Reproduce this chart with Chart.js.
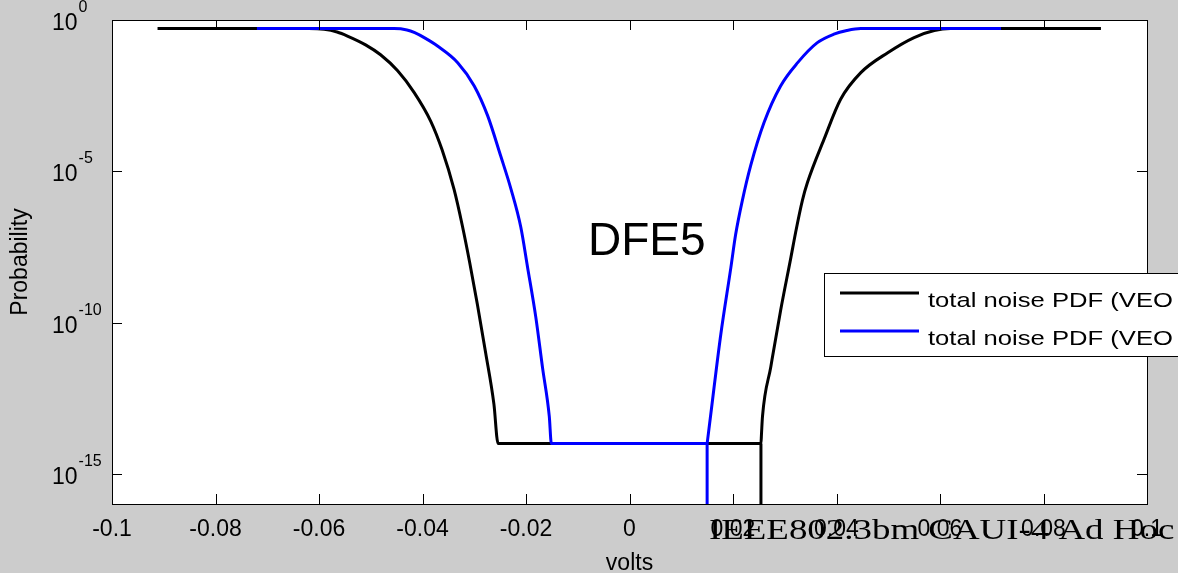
<!DOCTYPE html>
<html>
<head>
<meta charset="utf-8">
<script src="https://cdn.jsdelivr.net/npm/chart.js@4.4.0/dist/chart.umd.min.js"></script>
<style>
  html, body { margin: 0; padding: 0; background: #cccccc; }
  #wrap { width: 1178px; height: 573px; }
</style>
</head>
<body>
<div id="wrap"><canvas id="pdfChart"></canvas></div>
<script>
// values (volts, probability)
const blackX = [-0.0912, -0.062, -0.059, -0.0565, -0.0545, -0.051, -0.0481, -0.0448, -0.0416, -0.0384,
  -0.0362, -0.0339, -0.0323, -0.0309, -0.0294, -0.0278, -0.0262, -0.0254, 0.0254, 0.0255, 0.0257,
  0.0273, 0.0292, 0.0312, 0.0321, 0.0334, 0.0344, 0.0376, 0.0408, 0.0447, 0.0499, 0.055, 0.0589, 0.062, 0.0911];
const blackY = [0.52, 0.52, 0.49, 0.4, 0.295, 0.151, 0.0708, 0.0209, 3.98e-3, 4.47e-4,
  5.0e-5, 2.5e-6, 1.58e-7, 1e-8, 3.98e-10, 1e-11, 2e-13, 1e-14, 1e-14, 2e-14, 7.9e-14,
  3.4e-12, 2.5e-10, 1.45e-8, 9.5e-8, 1.07e-6, 4.3e-6, 1.15e-4, 2.4e-3, 0.0182, 0.083, 0.263, 0.447, 0.52, 0.52];

const blueX = [-0.072, -0.0455, -0.043, -0.0415, -0.0395, -0.0371, -0.0332, -0.03, -0.0274, -0.0249,
  -0.0229, -0.021, -0.0197, -0.0181, -0.0168, -0.0155, -0.0151, 0.015, 0.01505, 0.01635,
  0.01764, 0.0196, 0.0205, 0.0218, 0.0234, 0.026, 0.0292, 0.0325, 0.0363, 0.0395, 0.042, 0.0447, 0.0718];
const blueY = [0.52, 0.52, 0.468, 0.38, 0.251, 0.138, 0.0389, 6.6e-3, 6.76e-4, 3.24e-5,
  2.57e-6, 1.41e-7, 6.76e-9, 1.48e-10, 3.16e-12, 7.9e-14, 1e-14, 1e-14, 1.15e-14, 7.4e-13,
  4e-11, 6.76e-9, 7.9e-8, 1.07e-6, 1.5e-5, 4.07e-4, 6.6e-3, 0.0389, 0.178, 0.339, 0.447, 0.52, 0.52];

// the pdf hits zero right at the floor edge (drawn as a drop off the log axis)
const blackDropX = [0.0254, 0.0254];
const blackDropY = [1e-14, 1e-30];
const blueDropX = [0.015, 0.015];
const blueDropY = [1e-14, 1e-30];

const seriesLabels = ['total noise PDF (VEO', 'total noise PDF (VEO'];
const seriesColors = ['#000000', '#0000ff'];
const xTickValues = [-0.1, -0.08, -0.06, -0.04, -0.02, 0, 0.02, 0.04, 0.06, 0.08, 0.1];
const xTickLabels = ['-0.1', '-0.08', '-0.06', '-0.04', '-0.02', '0', '0.02', '0.04', '0.06', '0.08', '0.1'];
const yTickValues = [1, 1e-5, 1e-10, 1e-15];
const yTickExponents = ['0', '-5', '-10', '-15'];

const toPoints = (xs, ys) => xs.map((x, i) => ({ x: x, y: ys[i] }));

// MATLAB-style box, inward ticks, labels, annotation, legend
const matlabFrame = {
  id: 'matlabFrame',
  beforeDatasetsDraw(chart) {
    const { ctx, chartArea: a } = chart;
    ctx.save();
    ctx.fillStyle = '#ffffff';
    ctx.fillRect(a.left, a.top, a.right - a.left, a.bottom - a.top);
    ctx.restore();
  },
  afterDatasetsDraw(chart) {
    const { ctx, chartArea: a } = chart;
    const xs = chart.scales.x, ys = chart.scales.y;
    ctx.save();
    ctx.strokeStyle = '#000000';
    ctx.lineWidth = 1;
    ctx.strokeRect(a.left + 0.5, a.top + 0.5, a.right - a.left, a.bottom - a.top);

    ctx.beginPath();
    xTickValues.forEach(v => {
      const px = Math.round(xs.getPixelForValue(v)) + 0.5;
      ctx.moveTo(px, a.bottom); ctx.lineTo(px, a.bottom - 10);
      ctx.moveTo(px, a.top); ctx.lineTo(px, a.top + 10);
    });
    yTickValues.forEach(v => {
      const py = Math.round(ys.getPixelForValue(v)) + 0.5;
      ctx.moveTo(a.left, py); ctx.lineTo(a.left + 10, py);
      ctx.moveTo(a.right, py); ctx.lineTo(a.right - 10, py);
    });
    ctx.stroke();

    ctx.fillStyle = '#000000';
    ctx.font = '23px "Liberation Sans", Arial, sans-serif';
    ctx.textAlign = 'center';
    ctx.textBaseline = 'alphabetic';
    xTickValues.forEach((v, i) => {
      ctx.fillText(xTickLabels[i], xs.getPixelForValue(v), 536);
    });

    yTickValues.forEach((v, i) => {
      const py = ys.getPixelForValue(v);
      ctx.textAlign = 'left';
      ctx.font = '23px "Liberation Sans", Arial, sans-serif';
      ctx.fillText('10', 52, py + 10);
      const w = ctx.measureText('10').width;
      ctx.font = '16px "Liberation Sans", Arial, sans-serif';
      ctx.fillText(yTickExponents[i], 52 + w + 1, py - 8);
    });

    ctx.font = '23px "Liberation Sans", Arial, sans-serif';
    ctx.textAlign = 'center';
    ctx.fillText('volts', (a.left + a.right) / 2, 570);
    ctx.save();
    ctx.translate(27, (a.top + a.bottom) / 2);
    ctx.rotate(-Math.PI / 2);
    ctx.fillText('Probability', 0, 0);
    ctx.restore();

    ctx.font = '46px "Liberation Sans", Arial, sans-serif';
    ctx.textAlign = 'left';
    ctx.fillText('DFE5', 588, 255);

    // legend box runs past the right edge, like the reference
    ctx.fillStyle = '#ffffff';
    ctx.fillRect(824, 273, 380, 83);
    ctx.strokeRect(824.5, 273.5, 380, 83);
    const legendRows = [293, 331];
    seriesLabels.forEach((label, i) => {
      ctx.strokeStyle = seriesColors[i];
      ctx.lineWidth = 3;
      ctx.beginPath();
      ctx.moveTo(840, legendRows[i]);
      ctx.lineTo(919, legendRows[i]);
      ctx.stroke();
      ctx.save();
      ctx.fillStyle = '#000000';
      ctx.font = '21px "Liberation Sans", Arial, sans-serif';
      ctx.translate(928, legendRows[i] + 13.5);
      ctx.scale(1.22, 1);
      ctx.fillText(label, 0, 0);
      ctx.restore();
    });

    // overlay text
    ctx.save();
    ctx.fillStyle = '#000000';
    ctx.font = '30px "Liberation Serif", "Times New Roman", serif';
    ctx.translate(709, 539);
    ctx.scale(1.23, 1);
    ctx.fillText('IEEE802.3bm CAUI-4 Ad Hoc', 0, 0);
    ctx.restore();

    ctx.restore();
  }
};

const lineStyle = (color, order) => ({
  borderColor: color,
  borderWidth: 3,
  pointRadius: 0,
  cubicInterpolationMode: 'monotone',
  order: order
});

new Chart(document.getElementById('pdfChart'), {
  type: 'line',
  data: {
    datasets: [
      { label: seriesLabels[0], data: toPoints(blackX, blackY), ...lineStyle(seriesColors[0], 3) },
      { label: seriesLabels[0], data: toPoints(blackDropX, blackDropY), ...lineStyle(seriesColors[0], 2) },
      { label: seriesLabels[1], data: toPoints(blueX, blueY), ...lineStyle(seriesColors[1], 1) },
      { label: seriesLabels[1], data: toPoints(blueDropX, blueDropY), ...lineStyle(seriesColors[1], 0) }
    ]
  },
  plugins: [matlabFrame],
  options: {
    responsive: true,
    maintainAspectRatio: false,
    animation: false,
    devicePixelRatio: 1,
    layout: { padding: { left: 112, right: 31, top: 20, bottom: 69 } },
    scales: {
      x: { type: 'linear', min: -0.1, max: 0.1, display: false },
      y: { type: 'logarithmic', min: 1e-16, max: 1, display: false }
    },
    plugins: {
      legend: { display: false },
      tooltip: { enabled: false }
    }
  }
});
</script>
</body>
</html>
